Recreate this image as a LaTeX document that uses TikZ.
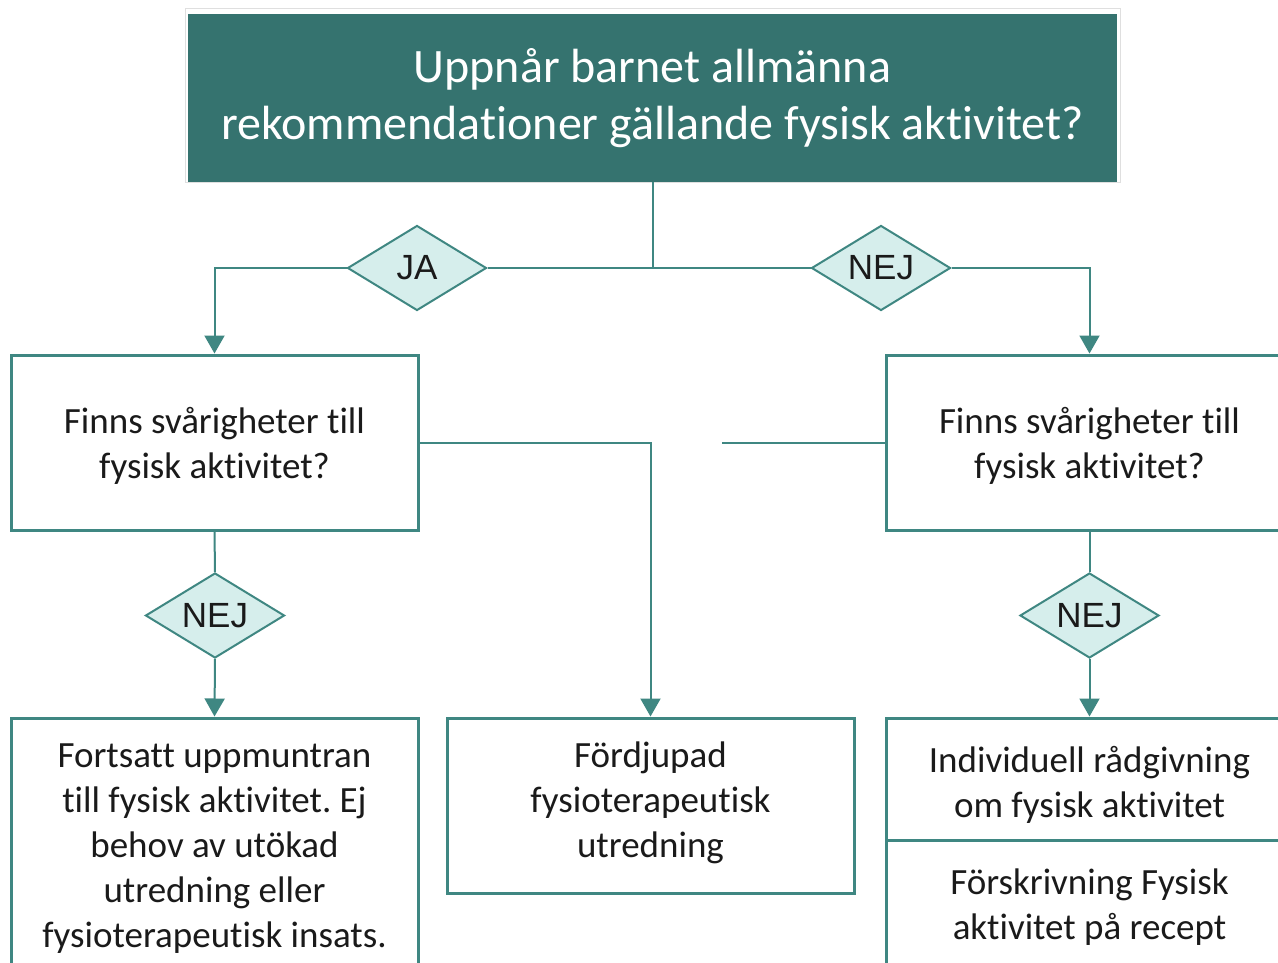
\documentclass[tikz,border=0pt]{standalone}
\usepackage{fontspec}
\setmainfont{Carlito}[Ligatures=NoCommon]
\newfontfamily\arialf{Liberation Sans}
\usetikzlibrary{shapes.geometric,arrows.meta}
\definecolor{darkteal}{HTML}{35736F}
\definecolor{lineteal}{HTML}{3F8782}
\definecolor{diafill}{HTML}{D6EEEC}
\definecolor{txt}{HTML}{1A1A1A}
\frenchspacing
\tikzset{
  box/.style={draw=lineteal, line width=3pt, fill=white, minimum width=407pt, inner sep=0pt},
  boxtext/.style={inner sep=0pt, align=center, text=txt, font=\fontsize{37}{45}\selectfont},
  dia/.style={diamond, draw=lineteal, line width=2pt, fill=diafill, aspect=1.635,
    minimum width=139pt, minimum height=85pt, inner sep=0pt, text=txt, font=\arialf\fontsize{35}{38}\selectfont},
  conn/.style={draw=lineteal, line width=2pt},
  arr/.style={conn, -{Triangle[width=20pt,length=18pt]}}
}
\begin{document}
\begin{tikzpicture}[x=1pt,y=-1pt]
\useasboundingbox (0,0) rectangle (1278,963);
\clip (0,0) rectangle (1278,963);
\fill[white] (0,0) rectangle (1278,963);
% top box
\draw[gray!25, line width=1pt, fill=white] (185,9) rectangle (1120,183);
\node (top) [fill=darkteal, minimum width=929pt, minimum height=168pt, inner sep=0pt, align=center,
  text=white, font=\fontsize{48}{57}\selectfont] at (652.5,98)
  {Uppnår barnet allmänna\\rekommendationer gällande fysisk aktivitet?};
\coordinate (j) at (652.5,268);
\node (ja) [dia] at (417,268) {JA};
\node (nejA) [dia] at (881,268) {NEJ};
\node (lbox) [box, minimum height=175pt] at (214.5,442.5) {};
\node (lboxt) [boxtext] at ([yshift=-3pt]lbox.center) {Finns svårigheter till\\fysisk aktivitet?};
\node (rbox) [box, minimum height=175pt] at (1089.5,442.5) {};
\node (rboxt) [boxtext] at ([yshift=-3pt]rbox.center) {Finns svårigheter till\\fysisk aktivitet?};
\node (nejB) [dia] at (215,615.5) {NEJ};
\node (nejC) [dia] at (1089.5,615.5) {NEJ};
\node (bl) [box, minimum height=254pt] at (214.5,845) {};
\node (blt) [boxtext] at ([yshift=-4pt]bl.center) {Fortsatt uppmuntran\\till fysisk aktivitet. Ej\\behov av utökad\\utredning eller\\fysioterapeutisk insats.};
\node (mid) [box, minimum height=175pt] at (650.5,805.5) {};
\node (midt) [boxtext] at ([yshift=3pt]mid.center) {Fördjupad\\fysioterapeutisk\\utredning};
\node (br1) [box, minimum height=122pt] at (1089.5,779) {};
\node (br1t) [boxtext] at ([yshift=-6pt]br1.center) {Individuell rådgivning\\om fysisk aktivitet};
\node (br2) [box, minimum height=132pt] at (1089.5,906) {};
\node (br2t) [boxtext] at ([yshift=-1pt]br2.center) {Förskrivning Fysisk\\aktivitet på recept};
\coordinate (gapend) at (722,442.5);
% connectors
\draw[conn] (top.south) -- (j);
\draw[conn] (j) -- (ja.east);
\draw[conn] (j) -- (nejA.west);
\draw[arr] (ja.west) -| (lbox.north);
\draw[arr] (nejA.east) -| (rbox.north);
\draw[arr] (lbox.east) -| (mid.north);
\draw[conn] (rbox.west) -- (gapend);
\draw[conn] (lbox.south) -- (nejB.north);
\draw[arr] (nejB.south) -- (bl.north);
\draw[conn] (rbox.south) -- (nejC.north);
\draw[arr] (nejC.south) -- (br1.north);
\end{tikzpicture}
\end{document}
